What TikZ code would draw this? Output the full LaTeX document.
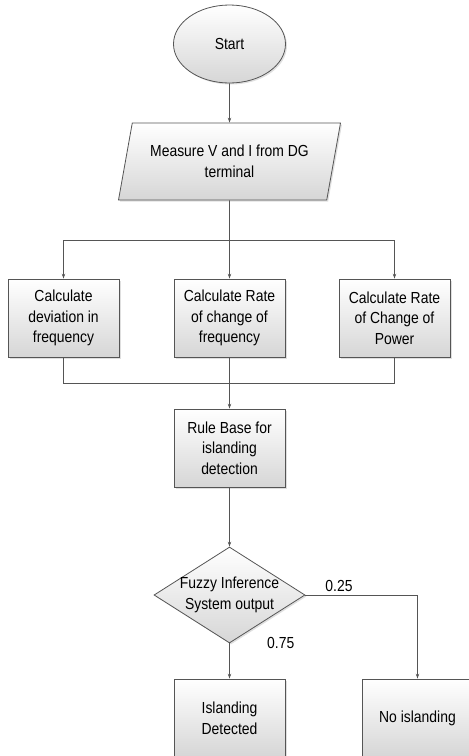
\documentclass[tikz,border=0pt]{standalone}
\usepackage{fontspec}
\setmainfont{Liberation Sans}[FakeStretch=0.87]
\usetikzlibrary{arrows.meta, positioning, shapes.geometric, shadows}

\definecolor{lineGray}{HTML}{555555}
\definecolor{boxGray}{HTML}{D6D6D6}

\begin{document}
\begin{tikzpicture}[x=1pt, y=-1pt, >={Stealth[length=5pt, width=3.5pt]},
  flowline/.style={draw=lineGray, line width=0.8pt},
  shaded/.style={draw=lineGray, line width=0.8pt, top color=white, bottom color=boxGray,
    drop shadow={shadow xshift=1.5pt, shadow yshift=-1.5pt, opacity=0.25}},
  txt/.style={font=\fontsize{16}{20.7}\selectfont, align=center},
  flowbox/.style={shaded, txt, rectangle, minimum width=111pt, minimum height=78pt, inner sep=0pt},
  startnode/.style={shaded, txt, ellipse, minimum width=112pt, minimum height=78pt, inner sep=0pt},
  iobox/.style={shaded, txt, trapezium, trapezium left angle=67, trapezium right angle=113,
    trapezium stretches body, minimum width=222pt, minimum height=77pt, inner sep=0pt},
  decision/.style={shaded, diamond, minimum width=151pt, minimum height=96pt, inner sep=0pt}]

\useasboundingbox (0,0) rectangle (469,756);
\clip (0,0) rectangle (469,756);

% top part: start and measurement
\node[startnode] (start) at (229.5,44) {Start};
\node[iobox] (meas) at (229.5,161.5) {Measure V and I from DG\\terminal};

% the three calculations
\coordinate (split) at (229.5,240);
\coordinate (merge) at (229.5,383);
\node[flowbox] (dev) at (63.5,318) {Calculate\\deviation in\\frequency};
\node[flowbox] (rocof) at (229.5,318) {Calculate Rate\\of change of\\frequency};
\node[flowbox] (rocop) at (394.5,318) {Calculate Rate\\of Change of\\Power};

% rule base and decision
\node[flowbox] (rule) at (229.5,448) {Rule Base for\\islanding\\detection};
\node[decision, label={[txt]center:Fuzzy Inference\\System output}] (fis) at (229.5,595) {};

% outcomes (cut by the bottom edge)
\node[flowbox] (isl) at (229.5,718) {Islanding\\Detected};
\node[flowbox] (noisl) at (417.5,718) {No islanding};

% connectors
\draw[flowline, ->] (start) -- (meas);
\draw[flowline] (meas) -- (split);
\draw[flowline, ->] (split) -| (dev);
\draw[flowline, ->] (split) -- (rocof);
\draw[flowline, ->] (split) -| (rocop);
\draw[flowline] (dev) |- (merge);
\draw[flowline] (rocop) |- (merge);
\draw[flowline, ->] (rocof) -- (rule);
\draw[flowline, ->] (rule) -- (fis);
\draw[flowline, ->] (fis) -- (isl) node[txt, pos=0, right=34pt] {0.75};
\draw[flowline, ->] (fis) -| (noisl) node[txt, pos=0.15, above] {0.25};

\end{tikzpicture}
\end{document}
